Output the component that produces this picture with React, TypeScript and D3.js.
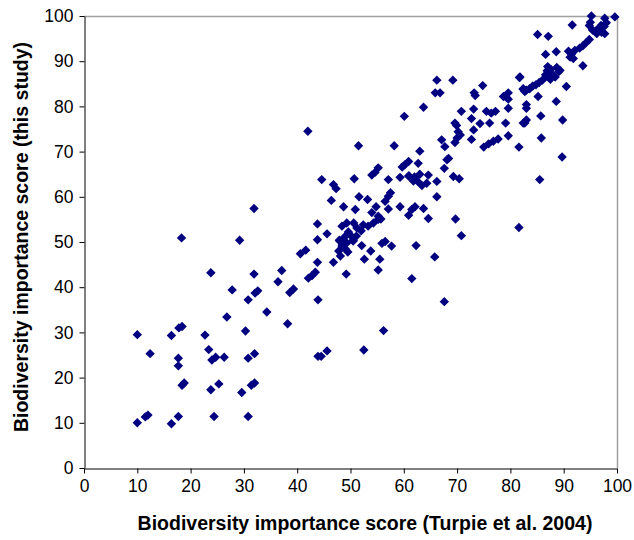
import React, { useEffect, useRef } from "react";
import * as d3 from "d3";

// Biodiversity importance scores per site: Turpie et al. (2004) vs. this study
const turpieScores: number[] = [
  10, 10, 11.5, 12, 12.4, 16.4, 16.4, 17.8, 18.4, 17.7, 17.7, 17.7, 18.4, 18.8, 18.3, 22.7, 23.4, 24, 24.7, 26.3,
  23.8, 25.3, 24.4, 23.8, 26.8, 27.8, 29.2, 29.6, 30.3, 30.8, 30.8, 32, 31.4, 32, 30.8, 31.9, 31.9, 32.1, 32.6, 34.3,
  36.4, 37.1, 38.2, 38.6, 39.3, 42.1, 42.8, 43.4, 43.9, 43.9, 44.5, 45.6, 52.5, 56.2, 49.2, 43.8, 46.8, 40.6, 41.6, 43.8,
  45.6, 43.8, 42,
  44.6, 46.8, 47.3, 46.4, 48.7, 50.9, 50.7, 51.6, 53.2, 54.8, 54, 55.2, 55.7, 57.1, 57.5, 57.1, 56.5, 57.1, 54, 54.6,
  55.2, 59.3, 60.9, 61.8, 51.5, 58.2, 60.1, 63.7, 59.3, 60.9, 61.5, 62.1, 63.7, 64.6, 69.7, 70.8, 62.3, 65.8, 61.5, 67.6,
  81.6, 55.5, 55.2, 52.6, 53.8, 52.1, 50.5, 55.9, 56.5, 57.7, 49, 48.5, 48, 49.5,
  48.4, 49.3, 50.6, 51.2, 52.4, 53.3, 54.3, 55.2, 49.6, 48.9, 47.9, 50, 52, 51.1, 50.5, 49.3, 48.4, 47.8, 48.1,
  66.2, 69.2, 65.9, 66.8, 73.2, 73.4, 74.8, 81.8, 82.4, 82.7, 79.6, 79.1, 79.6, 78.7, 70.8, 73.1, 75.5, 76.4, 77.2, 79.6,
  72.7, 69.6, 69.9, 74.3, 76.1, 79.1, 82.7, 73.1, 70.2, 70.6, 70, 69.6, 72.7, 75, 75.9, 76.8, 77.7, 79.6, 81.6, 67.1,
  67.7, 63, 68.4, 68.1, 60.9, 60.2, 59.7, 62.7, 67.6, 64.6, 61, 62, 62.6, 63, 63.4, 64.3, 66.2, 69.3, 70.4, 66.2,
  95.2, 99.6, 97.7, 98, 97.6, 97, 95, 94.8, 95.4, 96.1, 96.7, 97.7, 97.1, 96.2, 91.6, 94.8, 94.2, 93.6, 93, 85.1,
  87.1, 92.1, 91.5, 91.2, 91.8, 90.9, 86.6, 88.6, 93.6,
  87, 87.6, 86.9, 87.8, 88.4, 87.1, 89.1, 86.6, 87.5, 88.7, 89.3,
  81.7, 86, 85.4, 84.8, 84.2, 83.6, 83, 82.4, 90.5, 85.2, 88.6, 83, 83, 85.7, 89.8, 83, 82.4, 85.8, 89.7, 85.5,
];

const studyScores: number[] = [
  10, 29.5, 11.3, 11.7, 25.3, 9.8, 29.3, 31, 31.3, 11.4, 24.3, 22.6, 18.3, 18.8, 50.9, 29.4, 26.2, 23.9, 24.5, 24.5,
  17.3, 18.6, 11.4, 43.2, 33.4, 39.4, 50.4, 16.7, 30.3, 37.2, 24.3, 25.3, 18.3, 18.8, 11.4, 42.9, 57.4, 38.7, 39.2, 34.5,
  41.2, 43.7, 31.9, 38.8, 39.6, 42, 42.6, 43.3, 37.2, 24.7, 24.7, 25.9, 26.1, 30.4, 42.9, 45.5, 45.5, 47.4, 48.2, 50.5,
  51.8, 54, 74.5,
  63.8, 62.7, 61.8, 59.2, 57.8, 57.2, 64, 60, 59.4, 57.8, 56.5, 55.7, 55.1, 57.3, 60.9, 60.1, 59, 63.8, 64.8, 65.4,
  66.4, 64.3, 64.6, 63.5, 71.3, 71.3, 77.8, 79.8, 57.8, 55.9, 57.2, 57.8, 57.4, 55.2, 55.1, 51.4, 49.2, 46.7, 41.9, 36.8,
  53.2, 46.2, 43.8, 46.2, 48, 49.2, 50.4, 49.7, 50.1, 49.1, 48.5, 49.5, 50.2, 47.8,
  53.5, 54.2, 54.2, 53.1, 53.8, 53.5, 54.2, 55, 52.2, 51.1, 50.4, 51.5, 52.5, 51.3, 50.2, 49.8, 49.1, 48, 46.9,
  85.8, 85.8, 83, 83, 83, 82.4, 84.6, 86.5, 83.8, 83.3, 83, 82.2, 81.6, 82.2, 78.9, 79.4, 78.9, 78.5, 78.9, 79.6,
  77.3, 76.3, 75.8, 76.2, 76.3, 76.3, 76.3, 74.8, 74.4, 73.7, 73, 72, 72.7, 71, 71.7, 72.3, 72.8, 73.5, 71, 72.6,
  71.1, 70.1, 68.5, 68.2, 67.8, 67.1, 66.6, 67.4, 66.3, 64.8, 64.6, 64.4, 63.4, 65, 62.5, 63, 63.4, 64.5, 64, 60,
  100, 99.8, 99.5, 98.5, 97.7, 97.9, 98.6, 97.9, 96.9, 96.8, 97.3, 96.1, 96.4, 96.1, 98, 94.8, 94.1, 93.4, 92.9, 95.9,
  95.5, 92.4, 91.6, 90.9, 90.6, 92.2, 91.5, 92.1, 89,
  88.8, 88.2, 87.9, 87.2, 86.5, 86.5, 87.7, 87, 86, 88.6, 88,
  86.4, 85.8, 85.3, 84.8, 84.5, 83.9, 83.6, 83.9, 84.4, 82.2, 81.1, 80.4, 79.6, 77.9, 77, 77, 76.3, 73, 68.8, 63.8,
];

const tickValues: number[] = [0, 10, 20, 30, 40, 50, 60, 70, 80, 90, 100];

const xTitle = "Biodiversity importance score (Turpie et al. 2004)";
const yTitle = "Biodiversity importance score (this study)";

const W = 634;
const H = 540;
const left = 84;
const right = 617;
const top = 16;
const bottom = 468;
const markerColor = "#000080";
const fontFamily = "Arial, 'Liberation Sans', Helvetica, sans-serif";

export default function App() {
  const ref = useRef<SVGSVGElement>(null);

  useEffect(() => {
    const svg = d3.select(ref.current);
    svg.selectAll("*").remove();

    const x = d3.scaleLinear().domain([0, 100]).range([left, right]);
    const y = d3.scaleLinear().domain([0, 100]).range([bottom, top]);

    // grey frame on the top and right
    svg.append("path")
      .attr("d", `M${left},${top + 0.5}H${right + 0.5}V${bottom}`)
      .attr("fill", "none")
      .attr("stroke", "#a0a0a0")
      .attr("stroke-width", 1.5);

    const xAxis = d3.axisBottom(x).tickValues(tickValues).tickSize(5).tickSizeOuter(0).tickPadding(6);
    const yAxis = d3.axisLeft(y).tickValues(tickValues).tickSize(5).tickSizeOuter(0).tickPadding(6);

    const gx = svg.append("g").attr("transform", `translate(0,${bottom + 0.5})`).call(xAxis);
    const gy = svg.append("g").attr("transform", `translate(${left + 0.5},0)`).call(yAxis);

    [gx, gy].forEach((g) => {
      g.select(".domain").attr("stroke", "#000").attr("stroke-width", 1);
      g.selectAll(".tick line").attr("stroke", "#000");
      g.selectAll(".tick text")
        .attr("fill", "#000")
        .style("font-family", fontFamily)
        .style("font-size", "17.5px");
    });

    // diamond markers
    const diamond = d3.symbol().type(d3.symbolSquare).size(44);
    svg.append("g")
      .selectAll("path")
      .data(d3.zip(turpieScores, studyScores))
      .join("path")
      .attr("d", diamond)
      .attr("transform", (d) => `translate(${x(d[0])},${y(d[1])}) rotate(45)`)
      .attr("fill", markerColor);

    svg.append("text")
      .attr("x", 365)
      .attr("y", 530)
      .attr("text-anchor", "middle")
      .style("font-family", fontFamily)
      .style("font-size", "19.5px")
      .style("font-weight", "bold")
      .text(xTitle);

    svg.append("text")
      .attr("transform", `translate(28,237) rotate(-90)`)
      .attr("text-anchor", "middle")
      .style("font-family", fontFamily)
      .style("font-size", "19.5px")
      .style("font-weight", "bold")
      .text(yTitle);
  }, []);

  return (
    <svg
      ref={ref}
      width={W}
      height={H}
      style={{ position: "absolute", left: 0, top: 0, background: "#fff" }}
    />
  );
}
